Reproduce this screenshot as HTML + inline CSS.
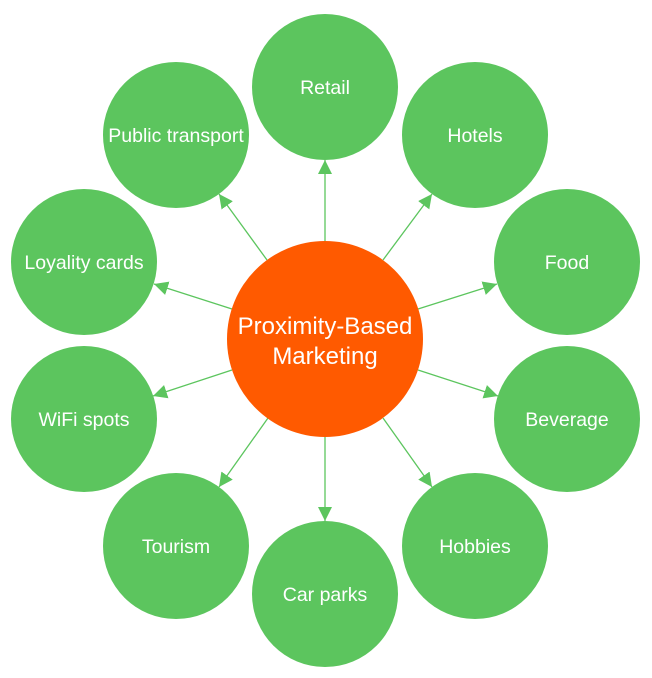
<!DOCTYPE html>
<html><head><meta charset="utf-8"><style>html,body{margin:0;padding:0;background:#fff}svg{display:block}</style></head>
<body>
<svg width="652" height="678" viewBox="0 0 652 678" xmlns="http://www.w3.org/2000/svg">
<defs><marker id="a" viewBox="0 0 10 10" refX="10" refY="5" markerWidth="14" markerHeight="14" markerUnits="userSpaceOnUse" orient="auto"><path d="M0,0 L10,5 L0,10 z" fill="#5cc55e"/></marker></defs>
<g stroke="#5cc55e" stroke-width="1.3" marker-end="url(#a)">
<line x1="325" y1="241" x2="325" y2="160"/>
<line x1="383" y1="260" x2="432" y2="194"/>
<line x1="418" y1="309" x2="497" y2="284"/>
<line x1="418" y1="370" x2="498" y2="396"/>
<line x1="383" y1="418" x2="432" y2="487"/>
<line x1="325" y1="437" x2="325" y2="521"/>
<line x1="268" y1="418" x2="219" y2="487"/>
<line x1="232" y1="370" x2="153" y2="396"/>
<line x1="232" y1="309" x2="154" y2="284"/>
<line x1="267" y1="260" x2="219" y2="194"/>
</g>
<g fill="#5cc55e">
<circle cx="325" cy="87" r="73"/><circle cx="475" cy="135" r="73"/><circle cx="567" cy="262" r="73"/>
<circle cx="567" cy="419" r="73"/><circle cx="475" cy="546" r="73"/><circle cx="325" cy="594" r="73"/>
<circle cx="176" cy="546" r="73"/><circle cx="84" cy="419" r="73"/><circle cx="84" cy="262" r="73"/>
<circle cx="176" cy="135" r="73"/>
</g>
<circle cx="325" cy="339" r="98" fill="#ff5a00"/>
<g fill="#fff" font-family="Liberation Sans, sans-serif" font-size="19.5" text-anchor="middle">
<text x="325" y="94">Retail</text>
<text x="475" y="142">Hotels</text>
<text x="567" y="269">Food</text>
<text x="567" y="426">Beverage</text>
<text x="475" y="553">Hobbies</text>
<text x="325" y="601">Car parks</text>
<text x="176" y="553">Tourism</text>
<text x="84" y="426">WiFi spots</text>
<text x="84" y="269">Loyality cards</text>
<text x="176" y="142">Public transport</text>
<text x="325" y="334" font-size="24">Proximity-Based</text>
<text x="325" y="364" font-size="24">Marketing</text>
</g>
</svg>
</body></html>
